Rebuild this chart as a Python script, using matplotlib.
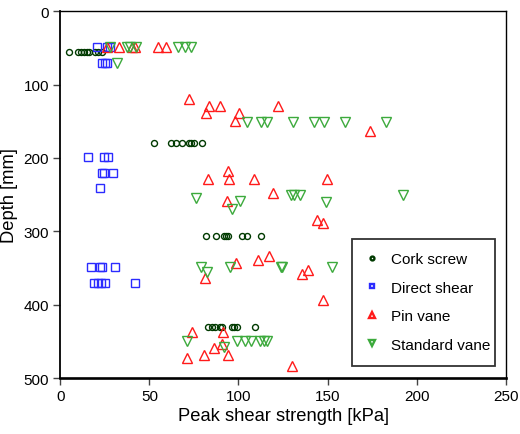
import matplotlib
matplotlib.use("Agg")
import matplotlib.pyplot as plt

plt.rcParams['font.family'] = ['Liberation Sans', 'DejaVu Sans']

# peak shear strength [kPa] vs depth [mm]
cork_kpa = [5, 10, 11.5, 13.5, 15, 16, 19.5, 21, 23.5,
            52.8, 62, 65.2, 68.1, 72, 73.5, 75, 79.6,
            81.6, 87.4, 92, 93, 94, 102, 105, 112.4,
            83, 85, 87, 89.5, 90.8, 96.2, 97.7, 99.3, 109]
cork_depth = [55] * 9 + [180] * 8 + [306] * 8 + [431] * 9

shear_kpa = [20.5, 26, 28, 23.5, 25, 26,
             15.7, 24.3, 26.5, 23.5, 24.5, 29.4, 22.3,
             17, 22, 23.2, 30.7, 19, 21, 23, 24.8, 42]
shear_depth = [48, 48, 48, 71, 71, 71,
               198, 198, 198, 221, 221, 221, 241,
               349, 349, 349, 349, 371, 371, 371, 371, 371]

pin_kpa = [26, 33, 40, 42, 55, 59.5,
           72, 83.7, 89.7, 122.4, 82, 100.5, 98, 173.8,
           93.9, 82.7, 94.9, 108.7, 149.7, 119.6, 93.4, 144.2, 147.3,
           98.5, 111.2, 116.9, 81, 135.8, 139, 147.2,
           74, 91.5, 90.8, 86, 80.7, 94, 71, 129.9]
pin_depth = [48, 48, 48, 48, 48, 48,
             119, 128.7, 128.7, 128.7, 138.7, 138.7, 149, 163,
             218, 228.8, 228.8, 228.8, 228.8, 248, 259, 284.2, 288.8,
             343.7, 339, 333.2, 363.5, 358.5, 353.4, 394.2,
             437.8, 437.8, 453.2, 459, 468.4, 468.4, 473.2, 483.3]

std_kpa = [28, 37.3, 39, 42.5, 66.2, 70, 73.2, 32,
           104.9, 112.4, 116, 130.5, 142.3, 147.8, 159.9, 182.7,
           76, 100.7, 96.2, 129.6, 131, 134.6, 149.4, 192.1,
           79.2, 82.1, 95.2, 123.6, 124.7, 152.3,
           71.3, 91.7, 99, 103.9, 107.2, 112, 114.2, 115.9]
std_depth = [49, 49, 49, 49, 49, 49, 49, 71,
             150.5, 150.5, 150.5, 150.5, 150.5, 150.5, 150.5, 150.5,
             254.5, 259.1, 269.6, 250.5, 250.5, 250.5, 260.4, 250.5,
             349.2, 355.5, 349.2, 349.2, 349.2, 349.2,
             449.6, 458, 449.6, 449.6, 449.6, 449.6, 449.6, 449.6]

fig = plt.figure(figsize=(5.2, 4.35), dpi=100)
ax = fig.add_axes([0.116, 0.1287, 0.8565, 0.8430])

ax.plot(cork_kpa, cork_depth, 'o', ms=4.3, mfc='none', mec='#003a00', mew=1.0,
        label='Cork screw')
ax.plot(shear_kpa, shear_depth, 's', ms=5.2, mfc='none', mec='#2b2bff', mew=1.0,
        label='Direct shear')
ax.plot(pin_kpa, pin_depth, '^', ms=7, mfc='none', mec='#ff1a1a', mew=1.0,
        label='Pin vane')
ax.plot(std_kpa, std_depth, 'v', ms=7, mfc='none', mec='#3caa3c', mew=1.0,
        label='Standard vane')

ax.set_xlim(0, 250)
ax.set_ylim(500, 0)
ax.set_xticks([0, 50, 100, 150, 200, 250])
ax.set_yticks([0, 100, 200, 300, 400, 500])
ax.tick_params(direction='out', length=5, width=1, color='#444444',
               labelsize=11, pad=3)
ax.spines['bottom'].set_linewidth(1.9)
ax.spines['left'].set_linewidth(1.3)
ax.spines['top'].set_linewidth(1.0)
ax.spines['right'].set_linewidth(1.0)

ax.set_xlabel('Peak shear strength [kPa]', fontsize=13.2, labelpad=3)
ax.set_ylabel('Depth [mm]', fontsize=13.2, labelpad=4)

leg = ax.legend(loc='lower left', bbox_to_anchor=(0.656, 0.034, 0.32, 0.351),
                mode='expand', fontsize=11, markerscale=0.65, labelspacing=0.95,
                handlelength=0.7, handletextpad=0.9, borderpad=0.9,
                fancybox=False, framealpha=1, borderaxespad=0)
leg.get_frame().set_edgecolor('#333333')
leg.get_frame().set_linewidth(1.3)
for h in leg.legend_handles:
    h.set_markeredgewidth(1.7)

fig.savefig('out.png', dpi=100)
